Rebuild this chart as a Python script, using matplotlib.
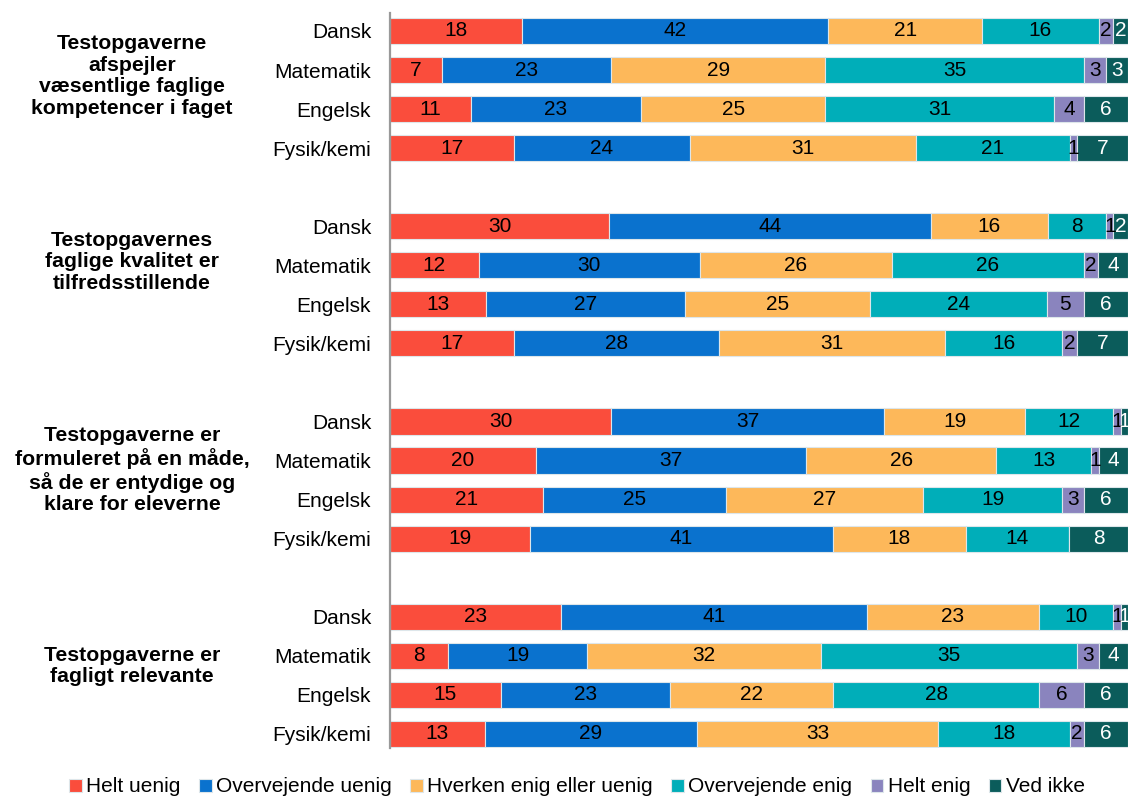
import matplotlib
matplotlib.use("Agg")
import matplotlib.pyplot as plt
import numpy as np

plt.rcParams['font.family'] = ['Liberation Sans', 'DejaVu Sans']

subjects = ["Dansk", "Matematik", "Engelsk", "Fysik/kemi"]
groups = [
    "Testopgaverne\nafspejler\nvæsentlige faglige\nkompetencer i faget",
    "Testopgavernes\nfaglige kvalitet er\ntilfredsstillende",
    "Testopgaverne er\nformuleret på en måde,\nså de er entydige og\nklare for eleverne",
    "Testopgaverne er\nfagligt relevante",
]
categories = ["Helt uenig", "Overvejende uenig", "Hverken enig eller uenig",
              "Overvejende enig", "Helt enig", "Ved ikke"]

# rows: group1 (Dansk, Matematik, Engelsk, Fysik/kemi), group2, group3, group4
helt_uenig        = [18, 7, 11, 17,   30, 12, 13, 17,   30, 20, 21, 19,   23, 8, 15, 13]
overvejende_uenig = [42, 23, 23, 24,  44, 30, 27, 28,   37, 37, 25, 41,   41, 19, 23, 29]
hverken           = [21, 29, 25, 31,  16, 26, 25, 31,   19, 26, 27, 18,   23, 32, 22, 33]
overvejende_enig  = [16, 35, 31, 21,  8, 26, 24, 16,    12, 13, 19, 14,   10, 35, 28, 18]
helt_enig         = [2, 3, 4, 1,      1, 2, 5, 2,       1, 1, 3, 0,       1, 3, 6, 2]
ved_ikke          = [2, 3, 6, 7,      2, 4, 6, 7,       1, 4, 6, 8,       1, 4, 6, 6]

series = [helt_uenig, overvejende_uenig, hverken, overvejende_enig, helt_enig, ved_ikke]
colors = ["#FA4D3C", "#0A72CE", "#FDB85A", "#00AEB9", "#8A84BE", "#0B5C5B"]
text_colors = ["black", "black", "black", "black", "black", "white"]

vals = np.array(series, dtype=float)  # shape (6, 16)
totals = vals.sum(axis=0)
widths = vals / totals * 100

# y positions: 4 rows per group, one empty slot between groups
ypos = []
for g in range(4):
    for r in range(4):
        ypos.append(g * 5 + r)
ypos = np.array(ypos)

fig = plt.figure(figsize=(11.29, 7.96), dpi=100)
ax = fig.add_axes([390/1129, 1-748/796, (1128-390)/1129, (748-13)/796])

left = np.zeros(len(ypos))
for i, (w, c) in enumerate(zip(widths, colors)):
    ax.barh(ypos, w, left=left, height=0.67, color=c, edgecolor="#DDE6EA",
            linewidth=0.8, label=categories[i])
    for j in range(len(ypos)):
        v = int(vals[i, j])
        if v > 0:
            ax.text(left[j] + w[j] / 2, ypos[j], str(v), ha="center", va="center",
                    fontsize=15, color=text_colors[i])
    left = left + w

ax.set_xlim(0, 100)
ax.set_ylim(18.36, -0.46)
ax.set_yticks(ypos)
ax.set_yticklabels(subjects * 4, fontsize=15)
ax.tick_params(axis="y", length=0, pad=13.5)
ax.set_xticks([])
for s in ["top", "right", "bottom"]:
    ax.spines[s].set_visible(False)
ax.spines["left"].set_color("#999999")
ax.spines["left"].set_linewidth(1.6)

group_y_px = [76, 262, 470, 666]
for g, label in enumerate(groups):
    fig.text(132/1129, 1 - group_y_px[g]/796, label, ha="center", va="center",
             fontsize=15.3, fontweight="bold", linespacing=1.17, multialignment="center")

handles, labels = ax.get_legend_handles_labels()
fig.legend(handles, labels, loc="center", bbox_to_anchor=(577/1129, 1 - 787/796),
           ncol=6, frameon=False, fontsize=15, handlelength=0.6, handleheight=0.6,
           handletextpad=0.2, columnspacing=0.9, borderaxespad=0)

fig.savefig("out.png", dpi=100)
